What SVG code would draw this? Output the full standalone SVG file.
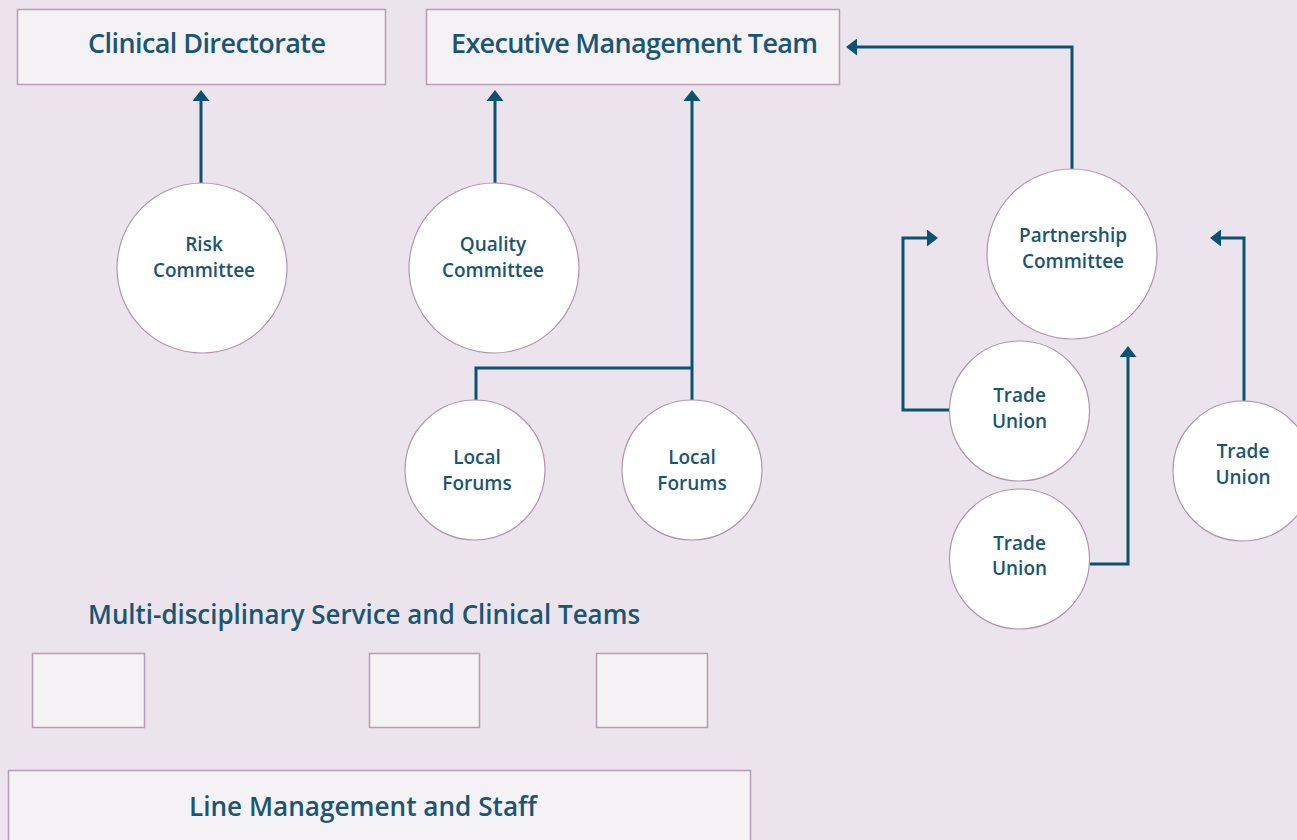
<svg xmlns="http://www.w3.org/2000/svg" width="1297" height="840" viewBox="0 0 1297 840">
  <style>
    .box { fill: #f4f2f4; stroke: #b89cb4; stroke-width: 1.5; }
    .node { fill: #ffffff; stroke: #b096ac; stroke-width: 1.2; }
    .lbl { font-family: "Open Sans", "Noto Sans", "Liberation Sans", sans-serif; fill: #1a5573; text-anchor: middle; }
    .head { font-size: 27px; font-weight: 600; }
    .small { font-size: 19px; font-weight: 600; }
    .cond { font-size: 27px; font-weight: 600; }
    .wire { fill: none; stroke: #0b5272; stroke-width: 3; }
  </style>
  <defs>
    <marker id="arrow" markerUnits="userSpaceOnUse" viewBox="0 0 11 17" markerWidth="11" markerHeight="17" refX="8" refY="8.5" orient="auto">
      <path d="M0,0 L11,8.5 L0,17 Z" fill="#0b5272"/>
    </marker>
  </defs>

  <rect x="0" y="0" width="1297" height="840" fill="#ece4ec"/>

  <!-- connectors -->
  <g id="connectors">
    <path class="wire" d="M201,183 V93" marker-end="url(#arrow)"/>
    <path class="wire" d="M495,183 V93" marker-end="url(#arrow)"/>
    <path class="wire" d="M476,400 V368 H692"/>
    <path class="wire" d="M692,400 V93" marker-end="url(#arrow)"/>
    <path class="wire" d="M1072,169 V47 H849" marker-end="url(#arrow)"/>
    <path class="wire" d="M950,410 H903 V238 H935" marker-end="url(#arrow)"/>
    <path class="wire" d="M1090,564 H1128 V349" marker-end="url(#arrow)"/>
    <path class="wire" d="M1244,401 V238 H1213" marker-end="url(#arrow)"/>
  </g>

  <!-- top boxes -->
  <g id="clinical-directorate">
    <rect class="box" x="17.5" y="9.5" width="368" height="75"/>
    <text class="lbl head" x="207" y="53" textLength="238">Clinical Directorate</text>
  </g>
  <g id="executive-management-team">
    <rect class="box" x="426.5" y="9.5" width="413" height="75"/>
    <text class="lbl head" x="634.5" y="53" textLength="367">Executive Management Team</text>
  </g>

  <!-- committees -->
  <g id="risk-committee">
    <circle class="node" cx="202" cy="268" r="85"/>
    <text class="lbl small" x="204" y="251">Risk</text>
    <text class="lbl small" x="204" y="277">Committee</text>
  </g>
  <g id="quality-committee">
    <circle class="node" cx="494" cy="268" r="85"/>
    <text class="lbl small" x="493" y="251">Quality</text>
    <text class="lbl small" x="493" y="277">Committee</text>
  </g>
  <g id="partnership-committee">
    <circle class="node" cx="1072" cy="254" r="85"/>
    <text class="lbl small" x="1073" y="242">Partnership</text>
    <text class="lbl small" x="1073" y="268">Committee</text>
  </g>

  <!-- local forums -->
  <g id="local-forums-1">
    <circle class="node" cx="475" cy="470" r="70"/>
    <text class="lbl small" x="477" y="464">Local</text>
    <text class="lbl small" x="477" y="490">Forums</text>
  </g>
  <g id="local-forums-2">
    <circle class="node" cx="692" cy="470" r="70"/>
    <text class="lbl small" x="692" y="464">Local</text>
    <text class="lbl small" x="692" y="490">Forums</text>
  </g>

  <!-- trade unions -->
  <g id="trade-union-1">
    <circle class="node" cx="1019.5" cy="411" r="70"/>
    <text class="lbl small" x="1019.5" y="402">Trade</text>
    <text class="lbl small" x="1019.5" y="428">Union</text>
  </g>
  <g id="trade-union-2">
    <circle class="node" cx="1019.5" cy="559" r="70"/>
    <text class="lbl small" x="1019.5" y="550">Trade</text>
    <text class="lbl small" x="1019.5" y="575">Union</text>
  </g>
  <g id="trade-union-3">
    <circle class="node" cx="1243" cy="471" r="70"/>
    <text class="lbl small" x="1243" y="458">Trade</text>
    <text class="lbl small" x="1243" y="484">Union</text>
  </g>

  <!-- service and clinical teams -->
  <g id="teams">
    <text class="lbl cond" x="364" y="624" textLength="552" lengthAdjust="spacingAndGlyphs">Multi-disciplinary Service and Clinical Teams</text>
    <rect class="box" x="32.5" y="653.5" width="112" height="74"/>
    <rect class="box" x="369.5" y="653.5" width="110" height="74"/>
    <rect class="box" x="596.5" y="653.5" width="111" height="74"/>
  </g>

  <g id="line-management">
    <rect class="box" x="8.5" y="770.5" width="742" height="80"/>
    <text class="lbl cond" x="363" y="816" textLength="348" lengthAdjust="spacingAndGlyphs">Line Management and Staff</text>
  </g>
</svg>
